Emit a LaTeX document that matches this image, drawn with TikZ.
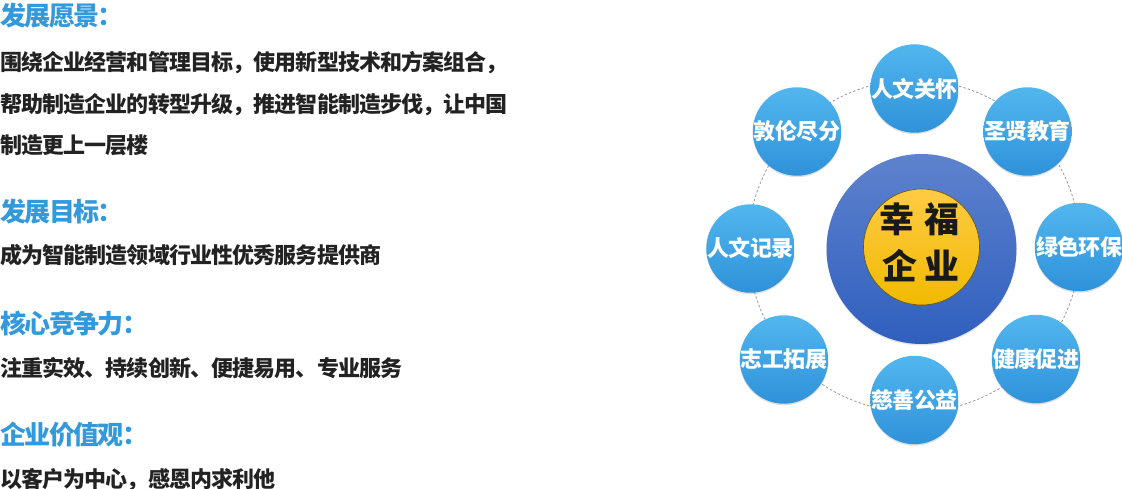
\documentclass[tikz,border=0pt]{standalone}
\usepackage{fontspec}
\newfontfamily\cjk{Noto Sans CJK SC}
\newfontfamily\cjktight{Noto Sans CJK SC}[LetterSpace=-4]
\newfontfamily\cjkpetal{Noto Sans CJK SC}[LetterSpace=-3]
\newfontfamily\cjkhead{Noto Sans CJK SC}[LetterSpace=-6]
\usetikzlibrary{shadows}
\definecolor{headblue}{HTML}{3399DD}
\definecolor{bodytext}{HTML}{222222}
\definecolor{ctop}{HTML}{52B6EE}
\definecolor{cbot}{HTML}{2F92DA}
\definecolor{btop}{HTML}{5E82CD}
\definecolor{bbot}{HTML}{2F5FBE}
\definecolor{ytop}{HTML}{FFCB45}
\definecolor{ybot}{HTML}{F0BA00}
\tikzset{
  heading/.style={anchor=base west, inner sep=0pt, text=headblue, font=\cjkhead\bfseries\fontsize{26}{30}\selectfont},
  bodyline/.style={anchor=base west, inner sep=0pt, text=bodytext, font=\cjktight\bfseries\fontsize{22}{26}\selectfont},
  petal/.style={circle, minimum size=86pt, inner sep=0pt, top color=ctop, bottom color=cbot,
    drop shadow={opacity=0.25, shadow xshift=0pt, shadow yshift=-1.5pt},
    text=white, font=\cjkpetal\bfseries\fontsize{22}{25}\selectfont},
  hub/.style={circle, minimum size=190pt, inner sep=0pt, top color=btop, bottom color=bbot,
    drop shadow={opacity=0.2, shadow xshift=0pt, shadow yshift=-1.5pt}},
  core/.style={circle, minimum size=116pt, inner sep=0pt, top color=ytop, bottom color=ybot,
    draw=black!55!ybot, line width=0.6pt},
  corechar/.style={inner sep=0pt, text=black!90, font=\cjk\bfseries\fontsize{35}{38}\selectfont},
  ring/.style={draw=black!40, line width=0.8pt, dash pattern=on 2.5pt off 2pt}
}
\begin{document}
\begin{tikzpicture}[x=1pt,y=-1pt]
\useasboundingbox (0,0) rectangle (1122,489);
% left text
\node[heading] (h1) at (0,26) {发展愿景：};
\node[bodyline] (b1) at (0,71) {围绕企业经营和管理目标，使用新型技术和方案组合，};
\node[bodyline] (b2) at (0,113) {帮助制造企业的转型升级，推进智能制造步伐，让中国};
\node[bodyline] (b3) at (0,154) {制造更上一层楼};
\node[heading] (h2) at (0,221.5) {发展目标：};
\node[bodyline] (b4) at (0,264) {成为智能制造领域行业性优秀服务提供商};
\node[heading] (h3) at (0,333.5) {核心竞争力：};
\node[bodyline] (b5) at (0,376) {注重实效、持续创新、便捷易用、专业服务};
\node[heading] (h4) at (0,444.5) {企业价值观：};
\node[bodyline] (b6) at (0,487.5) {以客户为中心，感恩内求利他};
% ring
\coordinate (rc) at (914,246);
\draw[ring] (rc) circle[radius=166];
% hub
\node[hub] (hub) at (921.5,249) {};
\node[core] (core) at (921.5,247) {};
\node[corechar] (c1) at (897,219) {幸};
\node[corechar] (c2) at (942,219) {福};
\node[corechar] (c3) at (900,266) {企};
\node[corechar] (c4) at (942,266) {业};
% petals
\node[petal] (p1) at (914.5,88.5) {人文关怀};
\node[petal] (p2) at (1027.5,131.5) {圣贤教育};
\node[petal] (p3) at (1079,247) {绿色环保};
\node[petal] (p4) at (1036,359) {健康促进};
\node[petal] (p5) at (914.5,400) {慈善公益};
\node[petal] (p6) at (784,359.5) {志工拓展};
\node[petal] (p7) at (750.5,248.5) {人文记录};
\node[petal] (p8) at (797,131.5) {敦伦尽分};
\end{tikzpicture}
\end{document}
